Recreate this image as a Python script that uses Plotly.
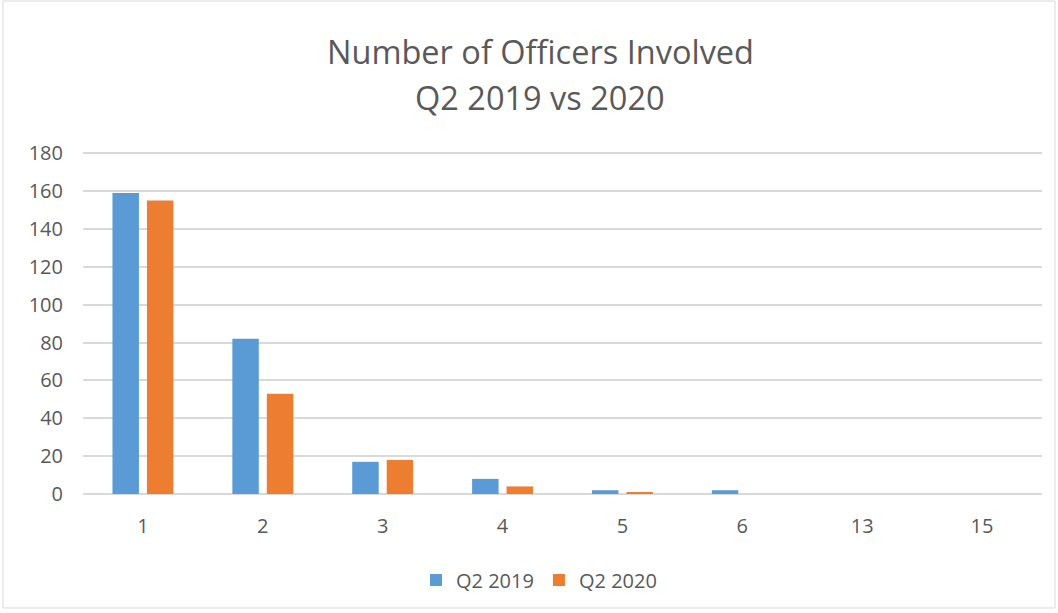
import plotly.graph_objects as go

categories = ["1", "2", "3", "4", "5", "6", "13", "15"]
q2_2019 = [159, 82, 17, 8, 2, 2, 0, 0]
q2_2020 = [155, 53, 18, 4, 1, 0, 0, 0]
y_ticks = [0, 20, 40, 60, 80, 100, 120, 140, 160, 180]
title_lines = ["Number of Officers Involved", "Q2 2019 vs 2020"]

fig = go.Figure()
fig.add_trace(go.Bar(x=categories, y=q2_2019, name="Q2 2019",
                     marker=dict(color="#5B9BD5", line=dict(width=0))))
fig.add_trace(go.Bar(x=categories, y=q2_2020, name="Q2 2020",
                     marker=dict(color="#ED7D31", line=dict(width=0))))

W, H = 1058, 613
ml, mr, mt, mb = 83, 16, 152, 119
pw, ph = W - ml - mr, H - mt - mb
grey = "#595959"
FONT = "Open Sans, Liberation Sans, sans-serif"

def py(y_screen):
    return (H - mb - y_screen) / ph

def px(x_screen):
    return (x_screen - ml) / pw

fig.update_layout(
    width=W, height=H,
    margin=dict(l=ml, r=mr, t=mt, b=mb),
    paper_bgcolor="white", plot_bgcolor="white",
    barmode="group", bargap=0.425, bargroupgap=0.232,
    font=dict(family=FONT, color=grey, size=20),
    xaxis=dict(type="category", showgrid=False, showline=False, ticks="",
               ticklabelstandoff=18, tickfont=dict(size=20, color=grey)),
    yaxis=dict(range=[0, 180.6], tickvals=y_ticks, showgrid=True, gridcolor="#d9d9d9",
               gridwidth=1.6, zeroline=True, zerolinecolor="#d9d9d9", zerolinewidth=1.6,
               showline=False, ticks="", ticklabelstandoff=19,
               tickfont=dict(size=20, color=grey)),
    legend=dict(orientation="h", x=px(539), xanchor="center", y=py(580), yanchor="middle",
                font=dict(size=20, color=grey), itemwidth=30),
    annotations=[
        dict(text=title_lines[0], xref="paper", yref="paper", x=px(540), y=py(52),
             xanchor="center", yanchor="middle", showarrow=False,
             font=dict(size=32.5, color=grey, family=FONT)),
        dict(text=title_lines[1], xref="paper", yref="paper", x=px(540), y=py(98),
             xanchor="center", yanchor="middle", showarrow=False,
             font=dict(size=32.5, color=grey, family=FONT)),
    ],
    shapes=[dict(type="rect", xref="paper", yref="paper",
                 x0=px(3), x1=px(1055), y0=py(608), y1=py(1),
                 line=dict(color="#d9d9d9", width=1), fillcolor="rgba(0,0,0,0)", layer="below")],
)

fig.write_html("out.html", config={"displayModeBar": False},
               post_script="document.body.style.margin='0';document.body.style.overflow='hidden';")
